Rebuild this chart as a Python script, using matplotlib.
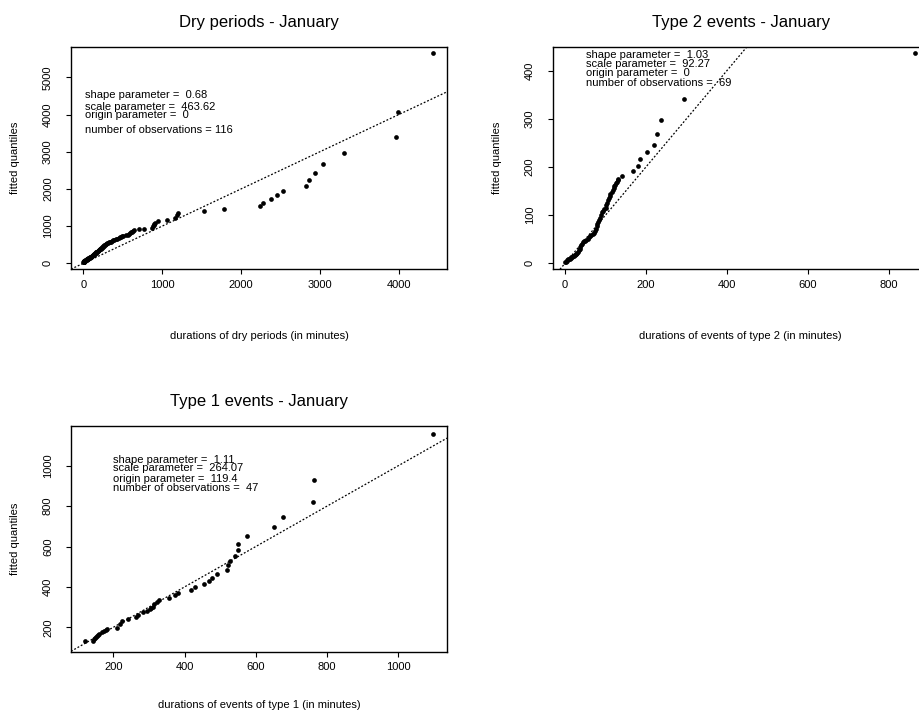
"""
Weibull QQ plots of January dry periods and rain events.
"""
import matplotlib
matplotlib.use("Agg")
import matplotlib.pyplot as plt

plt.rcParams['font.family'] = ['Liberation Sans', 'DejaVu Sans']

# dry periods: observed durations vs fitted Weibull quantiles
dry_obs = [2, 3, 4, 5, 6, 7, 9, 11, 13, 15, 18, 20, 23, 26, 29, 32, 35, 38,
           41, 44, 47, 50, 53, 56, 60, 64, 68, 72, 76, 80, 85, 90, 95, 100,
           105, 110, 115, 120, 125, 130, 135, 140, 145, 150, 155, 160, 166,
           172, 178, 184, 190, 196, 202, 208, 214, 220, 226, 232, 238, 245,
           252, 260, 268, 276, 284, 292, 300, 312, 325, 338, 350, 365, 380,
           395, 410, 430, 448, 465, 478, 490, 505, 540, 571, 582, 592, 603,
           613, 628, 642, 700, 770, 865, 878, 890, 902, 914, 950, 1056, 1165,
           1185, 1204, 1529, 1786, 2238, 2281, 2374, 2450, 2534, 2817, 2864,
           2936, 3037, 3307, 3958, 3991, 4435]
dry_fit = [38, 40, 42, 44, 46, 48, 52, 56, 60, 63, 67, 71, 75, 79, 83, 87, 91,
           95, 99, 103, 107, 111, 115, 120, 125, 130, 136, 141, 147, 152, 158,
           164, 170, 177, 184, 191, 200, 210, 220, 230, 240, 251, 262, 273,
           284, 294, 303, 310, 316, 325, 336, 347, 360, 372, 386, 398, 410,
           422, 434, 446, 460, 474, 490, 505, 518, 530, 540, 552, 562, 574,
           586, 600, 616, 630, 645, 664, 680, 700, 718, 735, 745, 752, 762,
           785, 807, 830, 852, 875, 897, 910, 924, 959, 990, 1022, 1050, 1076,
           1130, 1165, 1218, 1290, 1345, 1415, 1469, 1550, 1630, 1738, 1846,
           1953, 2088, 2249, 2438, 2671, 2976, 3406, 4079, 5666]

# type 2 events
t2_obs = [1, 2, 4, 6, 8, 10, 12, 14, 16, 18, 20, 22, 24, 26, 28, 30, 32, 34,
          36, 38, 40, 42, 44, 47, 50, 53, 56, 58, 61, 64, 68, 72, 74, 76, 78,
          80, 82, 85, 87, 89, 91, 94, 97, 100, 102, 104, 106, 108, 110, 112,
          115, 118, 120, 122, 124, 126, 128, 130, 131, 141, 168, 180, 185,
          203, 220, 228, 236, 294, 863]
t2_fit = [2, 3, 5, 6, 8, 9, 10, 12, 13, 14, 15, 16, 17, 19, 20, 22, 24, 27,
          30, 33, 37, 41, 45, 46, 47, 48, 51, 54, 57, 59, 61, 63, 67, 72, 78,
          82, 86, 90, 95, 100, 106, 109, 112, 115, 120, 126, 131, 135, 140,
          144, 149, 153, 157, 160, 163, 166, 169, 172, 175, 182, 192, 202,
          216, 230, 245, 269, 297, 341, 437]

# type 1 events
t1_obs = [119, 144, 146, 149, 152, 155, 158, 161, 167, 174, 178, 181, 210,
          220, 224, 242, 264, 268, 282, 294, 303, 307, 311, 314, 324, 328,
          357, 373, 383, 417, 429, 454, 468, 476, 491, 520, 522, 528, 542,
          550, 551, 576, 650, 678, 762, 763, 1099]
t1_fit = [131, 133, 140, 149, 154, 159, 163, 167, 175, 183, 187, 191, 195,
          216, 231, 243, 252, 262, 274, 279, 290, 296, 302, 315, 327, 335,
          347, 360, 371, 385, 401, 416, 429, 446, 466, 484, 507, 530, 555,
          585, 614, 654, 699, 748, 823, 932, 1160]

panels = [
    dict(obs=dry_obs, fit=dry_fit, title="Dry periods - January",
         xlabel="durations of dry periods (in minutes)",
         rect=[71 / 920, 1 - 269.3 / 715, 376 / 920, 222.6 / 715],
         xlim=(-156, 4610), ylim=(-161, 5823),
         xticks=[0, 1000, 2000, 3000, 4000],
         yticks=[0, 1000, 2000, 3000, 4000, 5000],
         params=["shape parameter =  0.68", "scale parameter =  463.62",
                 "origin parameter =  0", "number of observations = 116"],
         tx=0.037, ty=[0.783, 0.729, 0.691, 0.628], xly=-0.30),
    dict(obs=t2_obs, fit=t2_fit, title="Type 2 events - January",
         xlabel="durations of events of type 2 (in minutes)",
         rect=[552.7 / 920, 1 - 269.3 / 715, 376 / 920, 222.6 / 715],
         xlim=(-30.4, 898), ylim=(-12.4, 449.4),
         xticks=[0, 200, 400, 600, 800],
         yticks=[0, 100, 200, 300, 400],
         params=["shape parameter =  1.03", "scale parameter =  92.27",
                 "origin parameter =  0", "number of observations =  69"],
         tx=0.0886, ty=[0.963, 0.922, 0.880, 0.836], xly=-0.30),
    dict(obs=t1_obs, fit=t1_fit, title="Type 1 events - January",
         xlabel="durations of events of type 1 (in minutes)",
         rect=[71 / 920, 1 - 651.7 / 715, 376 / 920, 226 / 715],
         xlim=(81, 1137.5), ylim=(79, 1199),
         xticks=[200, 400, 600, 800, 1000],
         yticks=[200, 400, 600, 800, 1000],
         params=["shape parameter =  1.11", "scale parameter =  264.07",
                 "origin parameter =  119.4", "number of observations =  47"],
         tx=0.1125, ty=[0.848, 0.8115, 0.764, 0.723], xly=-0.236),
]

fig = plt.figure(figsize=(9.2, 7.15), dpi=100)

for p in panels:
    ax = fig.add_axes(p["rect"])
    ax.plot(p["obs"], p["fit"], 'o', color='black', markersize=3.4,
            markeredgewidth=0)
    ax.axline((0, 0), slope=1, color='black', lw=0.9, ls=(0, (1.5, 1.5)))
    ax.set_xlim(p["xlim"])
    ax.set_ylim(p["ylim"])
    ax.set_xticks(p["xticks"])
    ax.set_yticks(p["yticks"])
    ax.tick_params(labelsize=8, length=3.5, width=0.8, pad=4)
    ax.tick_params(axis='y', pad=9.5)
    for lab in ax.get_yticklabels():
        lab.set_rotation(90)
        lab.set_va('center')
    for sp in ax.spines.values():
        sp.set_linewidth(1.0)
    ax.set_title(p["title"], fontsize=12, pad=14)
    ax.set_xlabel(p["xlabel"], fontsize=8, va='center')
    ax.xaxis.set_label_coords(0.5, p["xly"])
    ax.set_ylabel("fitted quantiles", fontsize=8, va='center')
    ax.yaxis.set_label_coords(-0.149, 0.5)
    for line, y in zip(p["params"], p["ty"]):
        ax.text(p["tx"], y, line, transform=ax.transAxes, fontsize=8,
                va='center', ha='left')

plt.savefig("out.png")
plt.close()
